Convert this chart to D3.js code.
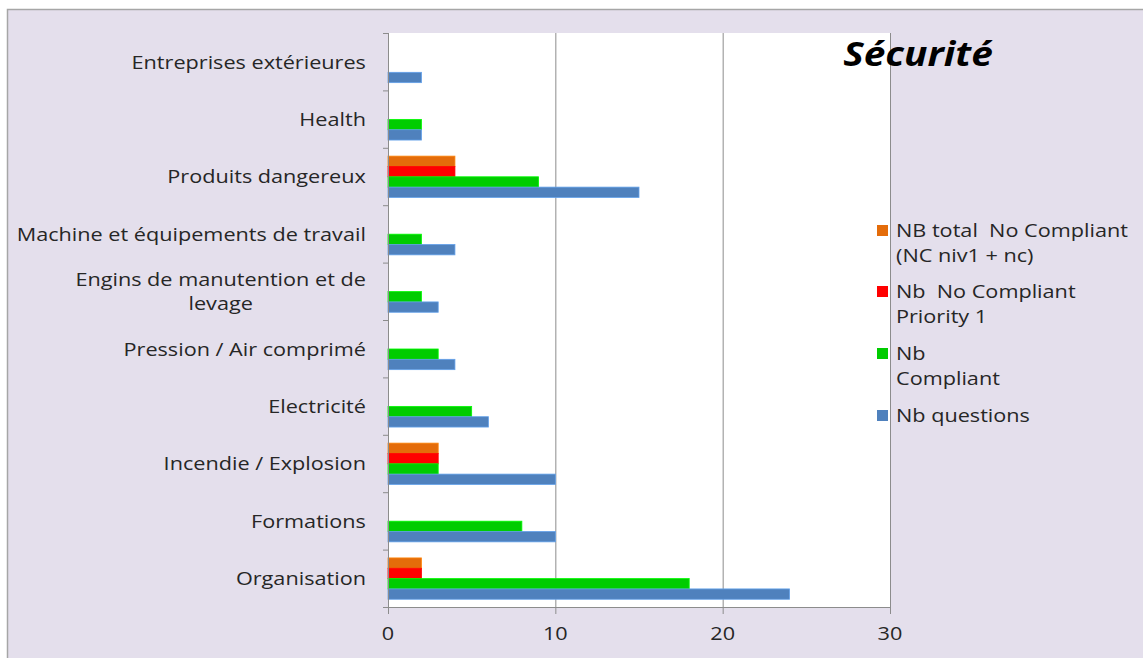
<!DOCTYPE html>
<html>
<head>
<meta charset="utf-8">
<script src="https://cdn.jsdelivr.net/npm/d3@7"></script>
<style>
  body { margin: 0; background: #fff; }
  svg { display: block; font-family: "Open Sans", sans-serif; }
  text { white-space: pre; }
</style>
</head>
<body>
<div id="chart"></div>
<script>
// données
const categories = ['Entreprises extérieures', 'Health', 'Produits dangereux',
  'Machine et équipements de travail', 'Engins de manutention et de levage',
  'Pression / Air comprimé', 'Electricité', 'Incendie / Explosion',
  'Formations', 'Organisation'];
const series = ['NB total  No Compliant (NC niv1 + nc)', 'Nb  No Compliant Priority 1',
  'Nb Compliant', 'Nb questions'];
const totalNC     = [0, 0, 4, 0, 0, 0, 0, 3, 0, 2];
const ncPriority1 = [0, 0, 4, 0, 0, 0, 0, 3, 0, 2];
const compliant   = [0, 2, 9, 2, 2, 3, 5, 3, 8, 18];
const questions   = [2, 2, 15, 4, 3, 4, 6, 10, 10, 24];
const xTicks = [0, 10, 20, 30];

const colors = ['#E46C0A', '#FF0000', '#00CC00', '#4F81BD'];
const values = [totalNC, ncPriority1, compliant, questions];

// libellés sur plusieurs lignes
const catLines = {
  'Engins de manutention et de levage': ['Engins de manutention et de', 'levage']
};
const legendLines = [
  ['NB total  No Compliant', '(NC niv1 + nc)'],
  ['Nb  No Compliant', 'Priority 1'],
  ['Nb', 'Compliant'],
  ['Nb questions']
];

const W = 1143, H = 658;
const plot = { left: 388, right: 890, top: 33, bottom: 607 };
const FS = 19, SX = 1.14;   // taille de police, étirement horizontal du texte
const txtColor = '#262626';

// étire le texte horizontalement autour du point ax
const stretch = (sel, ax) => sel.attr('transform', d =>
  `translate(${typeof ax === 'function' ? ax(d) : ax},0) scale(${SX},1) translate(${-(typeof ax === 'function' ? ax(d) : ax)},0)`);

const svg = d3.select('#chart').append('svg')
  .attr('width', W).attr('height', H);

// fond
svg.append('rect').attr('x', 7).attr('y', 9).attr('width', W - 7).attr('height', H - 9)
  .attr('fill', '#E4DFEC');
svg.append('path').attr('d', `M7.5,${H}V9.5H${W}`)
  .attr('fill', 'none').attr('stroke', '#A6A6A6').attr('stroke-width', 1.5);

// zone de tracé
svg.append('rect')
  .attr('x', plot.left).attr('y', plot.top)
  .attr('width', plot.right - plot.left).attr('height', plot.bottom - plot.top)
  .attr('fill', '#fff');

const x = d3.scaleLinear().domain([0, 30]).range([plot.left, plot.right]);
const y0 = d3.scaleBand().domain(categories).range([plot.top, plot.bottom]);
const y1 = d3.scaleBand().domain(d3.range(series.length))
  .range([y0.bandwidth() * 0.145, y0.bandwidth() * 0.865]);

// grille
svg.append('g').selectAll('line')
  .data(xTicks.slice(1))
  .join('line')
  .attr('x1', d => x(d) + 0.5).attr('x2', d => x(d) + 0.5)
  .attr('y1', plot.top).attr('y2', plot.bottom)
  .attr('stroke', '#8C8C8C').attr('stroke-width', 1);

// barres
const groups = svg.append('g').selectAll('g')
  .data(categories)
  .join('g')
  .attr('transform', d => `translate(0,${y0(d)})`);

groups.selectAll('rect')
  .data((c, i) => values.map((v, s) => ({ s, v: v[i] })).filter(d => d.v > 0))
  .join('rect')
  .attr('x', x(0))
  .attr('y', d => y1(d.s))
  .attr('width', d => x(d.v) - x(0))
  .attr('height', y1.bandwidth())
  .attr('fill', d => colors[d.s])
  .attr('stroke', d => d3.color(colors[d.s]).brighter(0.6))
  .attr('stroke-width', 0.8);

// axe vertical
const yAxis = svg.append('g');
yAxis.append('line')
  .attr('x1', plot.left + 0.5).attr('x2', plot.left + 0.5)
  .attr('y1', plot.top).attr('y2', plot.bottom)
  .attr('stroke', '#8C8C8C');
yAxis.selectAll('line.tick')
  .data(d3.range(categories.length + 1))
  .join('line').attr('class', 'tick')
  .attr('x1', plot.left - 5).attr('x2', plot.left)
  .attr('y1', i => plot.top + i * y0.step() + 0.5)
  .attr('y2', i => plot.top + i * y0.step() + 0.5)
  .attr('stroke', '#8C8C8C');

const labelRight = 366;
const catText = yAxis.selectAll('text')
  .data(categories)
  .join('text')
  .attr('text-anchor', 'middle')
  .attr('font-size', FS)
  .attr('fill', txtColor);
catText.each(function(d) {
  const lines = catLines[d] || [d];
  const cy = y0(d) + y0.bandwidth() / 2 - (lines.length - 1) * 12 + 7;
  const t = d3.select(this);
  lines.forEach((l, k) => {
    t.append('tspan').attr('x', 0).attr('y', cy + k * 24).text(l);
  });
});
catText.each(function() {
  const w = this.getBBox().width;
  d3.select(this).selectAll('tspan').attr('x', labelRight - w / 2);
});
stretch(catText, labelRight);

// axe horizontal
const xAxis = svg.append('g');
xAxis.append('line')
  .attr('x1', plot.left).attr('x2', plot.right)
  .attr('y1', plot.bottom + 0.5).attr('y2', plot.bottom + 0.5)
  .attr('stroke', '#8C8C8C');
xAxis.selectAll('line.tick')
  .data(xTicks)
  .join('line').attr('class', 'tick')
  .attr('x1', d => x(d) + 0.5).attr('x2', d => x(d) + 0.5)
  .attr('y1', plot.bottom).attr('y2', plot.bottom + 7)
  .attr('stroke', '#8C8C8C');
const tickText = xAxis.selectAll('text')
  .data(xTicks)
  .join('text')
  .attr('x', d => x(d)).attr('y', 640)
  .attr('text-anchor', 'middle')
  .attr('font-size', FS)
  .attr('fill', txtColor)
  .text(d => d);
stretch(tickText, d => x(d));

// titre
const title = svg.append('text')
  .attr('x', 918).attr('y', 66)
  .attr('text-anchor', 'middle')
  .attr('font-size', 34).attr('font-weight', 'bold').attr('font-style', 'italic')
  .attr('fill', '#000')
  .text('Sécurité');
stretch(title, 918);

// légende
const legendY = [230, 291, 353, 415];
const legend = svg.append('g').selectAll('g')
  .data(series)
  .join('g')
  .attr('transform', (d, i) => `translate(0,${legendY[i]})`);
legend.append('rect')
  .attr('x', 877).attr('y', -5).attr('width', 11).attr('height', 11)
  .attr('fill', (d, i) => colors[i]);
const legendText = legend.append('text')
  .attr('font-size', FS).attr('fill', txtColor)
  .each(function(d, i) {
    legendLines[i].forEach((l, k) => {
      d3.select(this).append('tspan').attr('x', 896).attr('y', 7 + k * 25).text(l);
    });
  });
stretch(legendText, 896);
</script>
</body>
</html>
